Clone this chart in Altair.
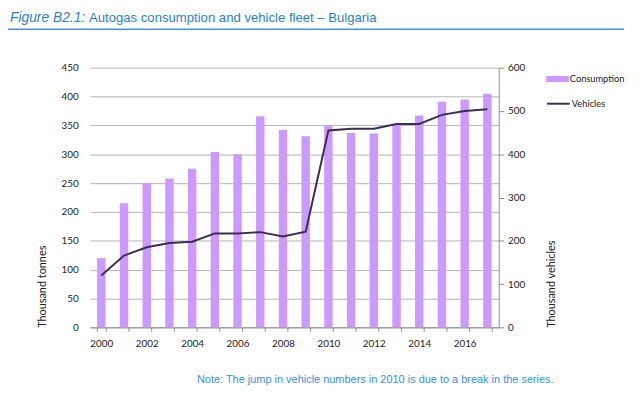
import altair as alt
import pandas as pd

# valores
years = list(range(2000, 2018))
consumption = [120, 215, 250, 258, 275, 304, 300, 366, 342, 331,
               349, 337, 336, 352, 367, 391, 395, 405]
vehicles = [120, 166, 185, 195, 198, 217, 217, 220, 210, 221,
            455, 459, 459, 470, 470, 491, 500, 504]

title_lead = "Figure B2.1:"
title_rest = "Autogas consumption and vehicle fleet \u2013 Bulgaria"
note_text = "Note: The jump in vehicle numbers in 2010 is due to a break in the series."

df = pd.DataFrame({"Year": years, "Consumption": consumption, "Vehicles": vehicles})
one = pd.DataFrame({"k": [0]})

AXIS_FONT = "Lato"
BLUE = "#2f7fc4"

x_enc = alt.X(
    "Year:O",
    scale=alt.Scale(paddingInner=0.63, paddingOuter=0.315),
    axis=alt.Axis(
        title=None,
        labelAngle=0,
        labelExpr="datum.value % 2 == 0 ? datum.label : ''",
        tickBand="extent",
        tickSize=4,
        tickColor="#8c8c8c",
        domainColor="#8c8c8c",
        labelFont=AXIS_FONT,
        labelFontSize=10,
        labelColor="#222222",
        labelPadding=7,
    ),
)

bars = alt.Chart(df).transform_calculate(serie="'Consumption'").mark_bar().encode(
    x=x_enc,
    y=alt.Y(
        "Consumption:Q",
        scale=alt.Scale(domain=[0, 450]),
        axis=alt.Axis(
            title="Thousand tonnes",
            values=list(range(0, 451, 50)),
            domain=False,
            ticks=False,
            gridColor="#b3b3b3",
            labelFont=AXIS_FONT,
            labelFontSize=10,
            labelColor="#222222",
            labelPadding=12,
            titleFont=AXIS_FONT,
            titleFontSize=11,
            titleFontWeight="normal",
            titleColor="#222222",
            titleAnchor="start",
            titlePadding=14,
        ),
    ),
    color=alt.Color(
        "serie:N",
        scale=alt.Scale(domain=["Consumption"], range=["#cc99ff"]),
        legend=alt.Legend(
            title=None, orient="none", legendX=462, legendY=0, padding=0,
            symbolType="M-1,-0.27H1V0.27H-1Z", symbolSize=529,
            symbolStrokeWidth=0, labelFont=AXIS_FONT, labelFontSize=9.4,
            labelColor="#222222", labelOffset=1, labelLimit=200,
        ),
    ),
)

line = alt.Chart(df).transform_calculate(serie2="'Vehicles'").mark_line(strokeWidth=2).encode(
    x=alt.X("Year:O"),
    y=alt.Y(
        "Vehicles:Q",
        scale=alt.Scale(domain=[0, 600]),
        axis=alt.Axis(
            orient="right",
            title="Thousand vehicles",
            values=list(range(0, 601, 100)),
            grid=False,
            domainColor="#8c8c8c",
            tickColor="#8c8c8c",
            tickSize=5,
            labelFont=AXIS_FONT,
            labelFontSize=10,
            labelColor="#222222",
            labelPadding=4,
            titleFont=AXIS_FONT,
            titleFontSize=11,
            titleFontWeight="normal",
            titleColor="#222222",
            titleAngle=270,
            titleAnchor="start",
            titlePadding=32,
        ),
    ),
    stroke=alt.Stroke(
        "serie2:N",
        scale=alt.Scale(domain=["Vehicles"], range=["#3b2e4f"]),
        legend=alt.Legend(
            title=None, orient="none", legendX=462, legendY=24, padding=0,
            symbolType="stroke", symbolSize=529, symbolStrokeWidth=2,
            labelFont=AXIS_FONT, labelFontSize=9.4, labelColor="#222222",
            labelOffset=1,
        ),
    ),
)

# título e nota (texto posicionado em pixels relativos à área do gráfico)
t1 = alt.Chart(one).mark_text(
    text=title_lead, font="Liberation Sans", fontSize=14, fontStyle="italic",
    color=BLUE, align="left", baseline="alphabetic",
).encode(x=alt.value(-81), y=alt.value(-46))

t2 = alt.Chart(one).mark_text(
    text=title_rest, font="Liberation Sans", fontSize=13.3,
    color=BLUE, align="left", baseline="alphabetic",
).encode(x=alt.value(-1), y=alt.value(-46))

rule = alt.Chart(one).mark_rule(color="#4a93d6", strokeWidth=1.5).encode(
    x=alt.value(-83), x2=alt.value(541), y=alt.value(-39)
)

note = alt.Chart(one).mark_text(
    text=note_text, font="Liberation Sans", fontSize=11.1,
    color="#3a8fe0", align="center", baseline="alphabetic",
).encode(x=alt.value(289), y=alt.value(319))

chart = alt.layer(bars, line, t1, t2, rule, note).resolve_scale(
    y="independent", color="independent", stroke="independent"
).properties(
    width=414,
    height=263,
    autosize=alt.AutoSizeParams(type="none"),
    padding={"left": 83, "top": 58, "right": 135, "bottom": 60},
).configure_view(stroke=None)

chart.save("out.html", embed_options={"renderer": "svg", "actions": False})
